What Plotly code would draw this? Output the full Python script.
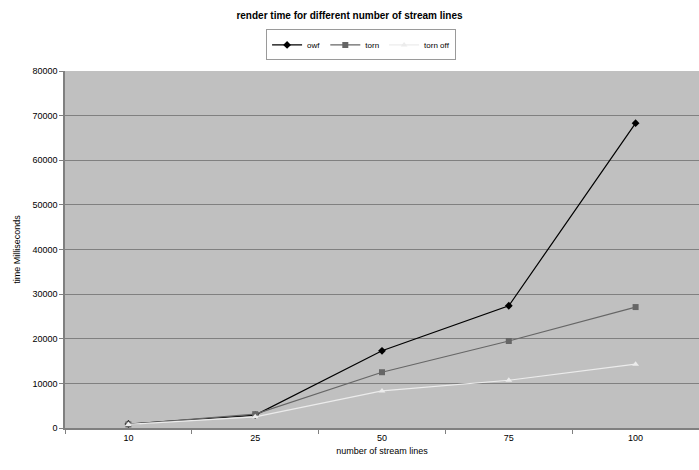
import plotly.graph_objects as go

# Number of stream lines (category axis)
stream_lines = ["10", "25", "50", "75", "100"]

# Render times in milliseconds
owf = [900, 2900, 17300, 27400, 68300]
torn = [800, 3100, 12500, 19500, 27100]
torn_off = [800, 2500, 8300, 10700, 14300]

y_ticks = [0, 10000, 20000, 30000, 40000, 50000, 60000, 70000, 80000]

FONT = "Liberation Sans, Arial, sans-serif"

fig = go.Figure()
fig.add_trace(go.Scatter(
    x=stream_lines, y=owf, name="owf", mode="lines+markers",
    line=dict(color="#000000", width=1.2),
    marker=dict(symbol="diamond", size=6, color="#000000"),
))
fig.add_trace(go.Scatter(
    x=stream_lines, y=torn, name="torn", mode="lines+markers",
    line=dict(color="#666666", width=1.2),
    marker=dict(symbol="square", size=6, color="#666666"),
))
fig.add_trace(go.Scatter(
    x=stream_lines, y=torn_off, name="torn off", mode="lines+markers",
    line=dict(color="#ececec", width=1.2),
    marker=dict(symbol="triangle-up", size=6, color="#ececec"),
))

fig.update_layout(
    width=699, height=470,
    margin=dict(l=65, r=0, t=71, b=42),
    paper_bgcolor="#ffffff",
    plot_bgcolor="#c0c0c0",
    font=dict(family=FONT, size=9, color="#000000"),
    title=dict(
        text="<b>render time for different number of stream lines</b>",
        x=0.5, xref="container", xanchor="center",
        y=0.968, yref="container", yanchor="middle",
        font=dict(size=10, family=FONT),
    ),
    showlegend=True,
    legend=dict(
        orientation="h",
        x=0.467, xanchor="center",
        y=1.073, yanchor="middle",
        bgcolor="#ffffff",
        bordercolor="#9a9a9a", borderwidth=1,
        font=dict(size=8),
        itemwidth=30,
        tracegroupgap=0,
    ),
    xaxis=dict(
        type="category",
        categoryorder="array", categoryarray=stream_lines,
        range=[-0.5, 4.5],
        tickson="boundaries",
        ticks="outside", ticklen=4, tickcolor="#808080",
        showgrid=False,
        showline=True, linecolor="#808080", linewidth=1.5,
        mirror=False,
        title=dict(text="number of stream lines", standoff=6, font=dict(size=9)),
        zeroline=False,
    ),
    yaxis=dict(
        range=[0, 80000],
        tickvals=y_ticks,
        ticktext=[str(v) for v in y_ticks],
        ticks="outside", ticklen=4, tickcolor="#808080",
        showgrid=True, gridcolor="#808080", gridwidth=1,
        showline=True, linecolor="#808080", linewidth=1.5,
        zeroline=False,
        title=dict(text="time Milliseconds", standoff=10, font=dict(size=9)),
    ),
)

fig.write_html("out.html")
